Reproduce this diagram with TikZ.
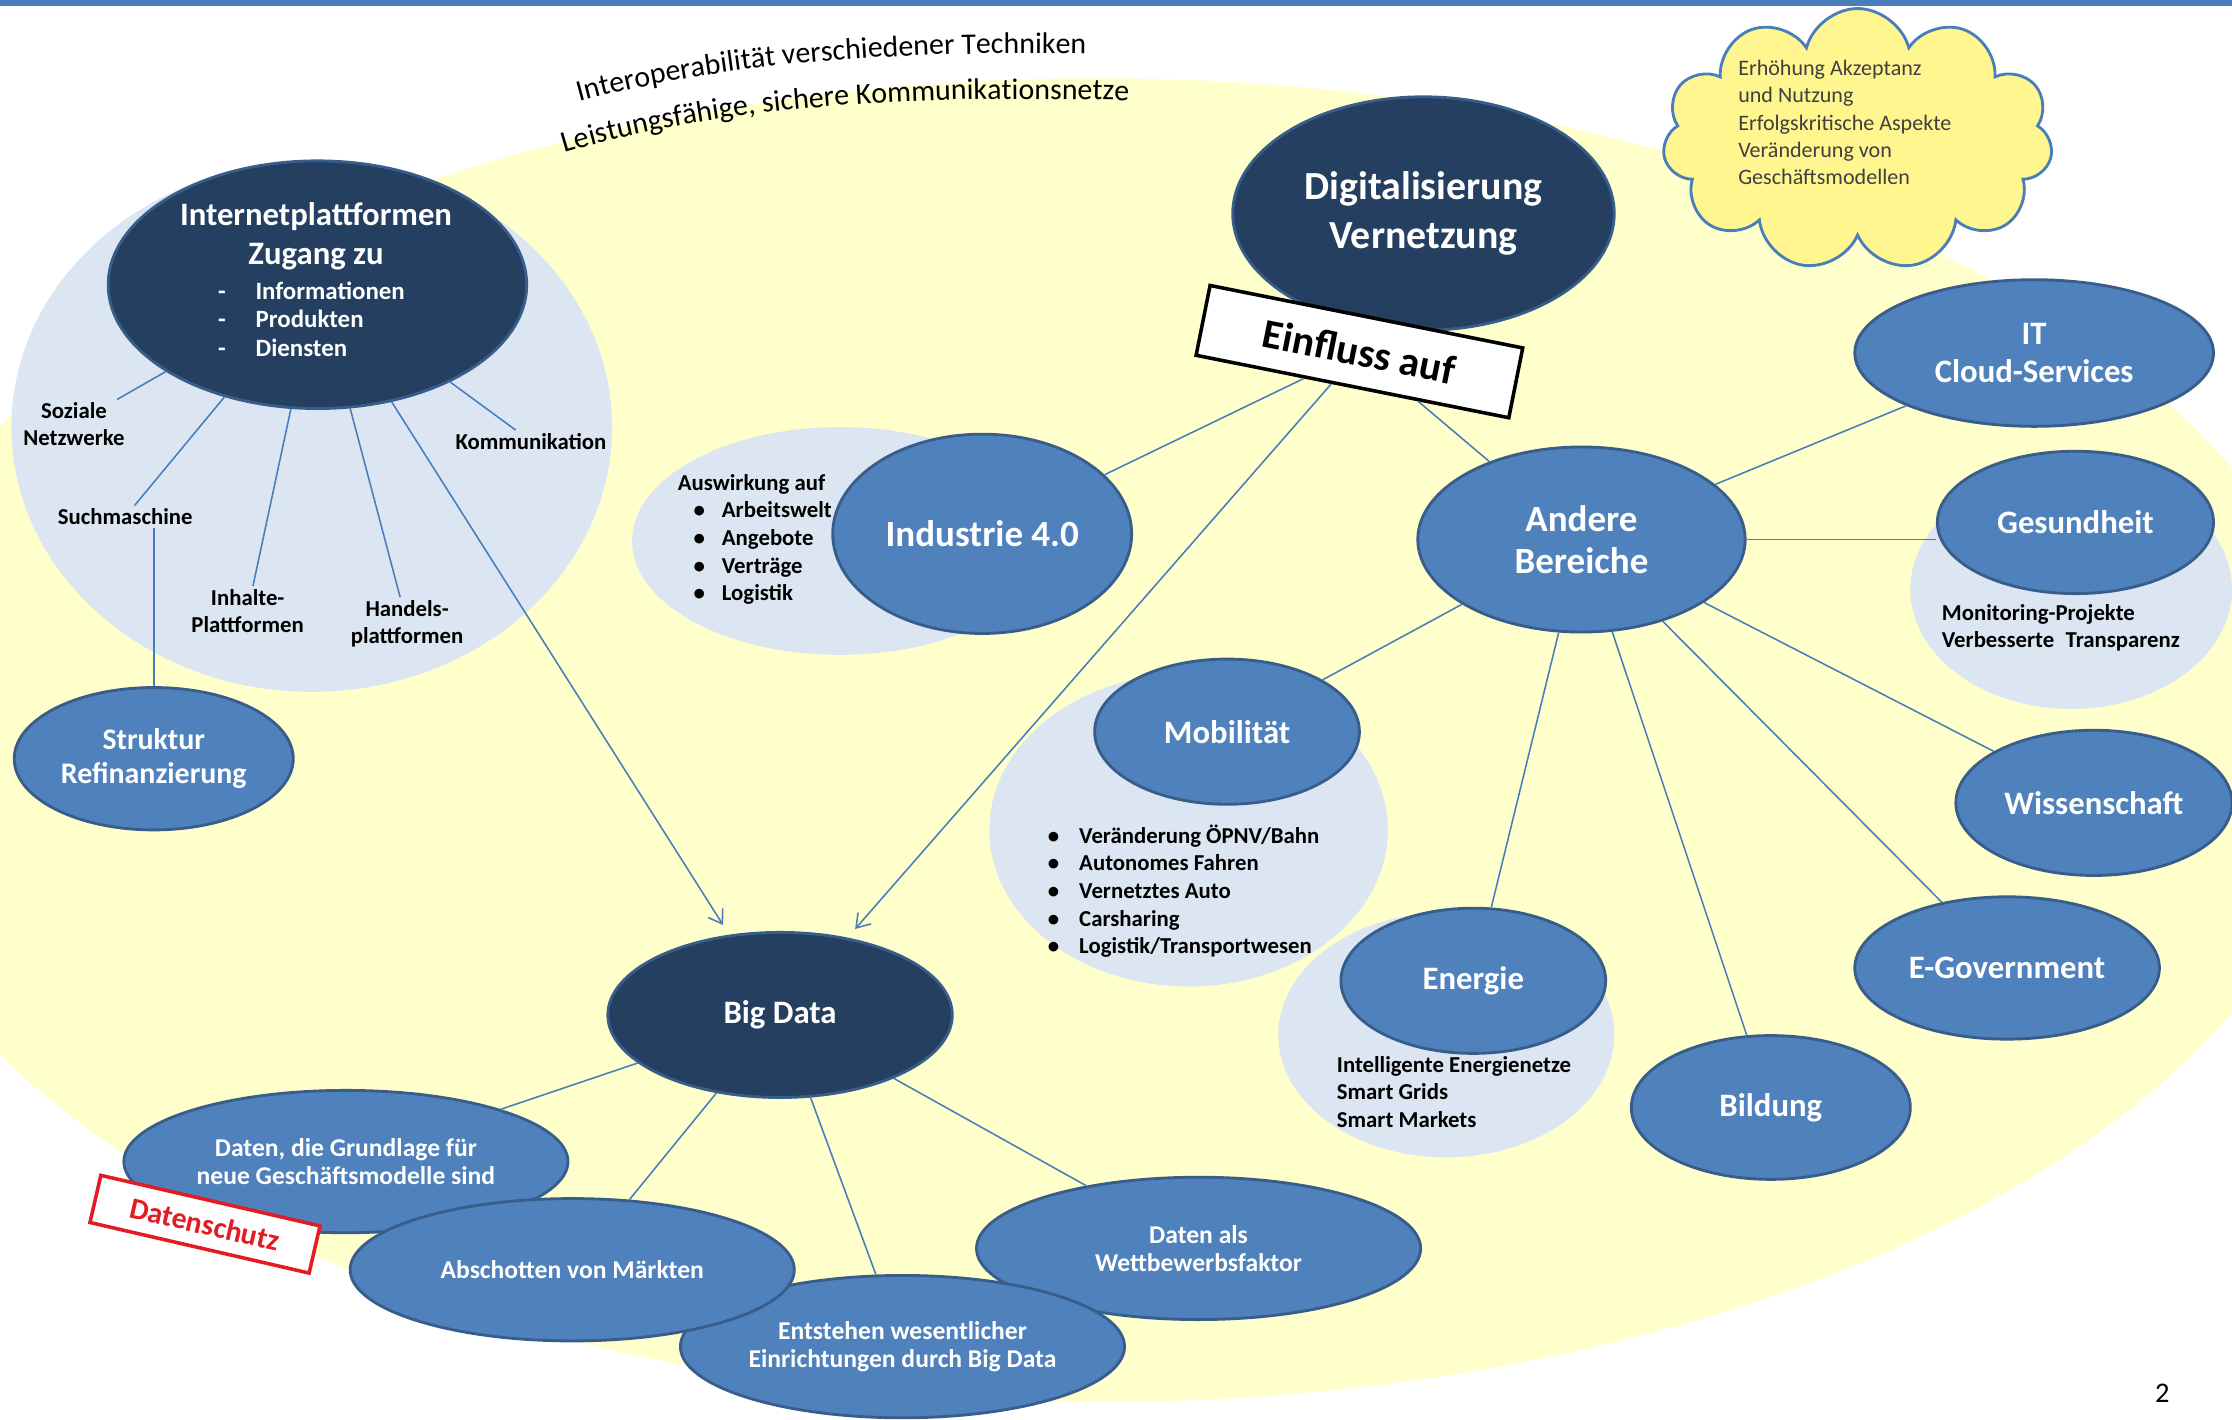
\documentclass[tikz,border=0pt]{standalone}
\usepackage{fontspec}
\setmainfont{Carlito}
\usetikzlibrary{shapes.geometric,shapes.symbols,decorations.text,arrows.meta}

\definecolor{gelb}{HTML}{FFFFCC}
\definecolor{hellblau}{HTML}{DCE6F2}
\definecolor{mittelblau}{HTML}{4F81BD}
\definecolor{randblau}{HTML}{385D8A}
\definecolor{dunkelblau}{HTML}{243F60}
\definecolor{linienblau}{HTML}{4A7EBB}
\definecolor{wolkengelb}{HTML}{FFF68F}
\definecolor{stempelrot}{HTML}{E31B23}

\tikzset{
  blase/.style={ellipse, draw=randblau, line width=2pt, fill=mittelblau, text=white,
    inner sep=0pt, align=center, font=\bfseries\fontsize{23}{27}\selectfont},
  dunkel/.style={blase, fill=dunkelblau},
  unten/.style={blase, minimum width=312pt, minimum height=100pt,
    font=\bfseries\fontsize{18}{20}\selectfont},
  hinter/.style={fill=hellblau},
  stich/.style={draw=linienblau, line width=1.1pt},
  beschr/.style={align=center, font=\bfseries\fontsize{16}{19}\selectfont, inner sep=2pt},
  liste/.style={align=left, font=\bfseries\fontsize{16}{19.4}\selectfont, inner sep=0pt, anchor=west},
  stempel/.style={draw, line width=2.5pt, fill=white, inner sep=0pt, font=\bfseries}
}

\begin{document}
\begin{tikzpicture}[x=1pt, y=-1pt, >={Straight Barb[length=9pt,width=12pt]}]
    \useasboundingbox (0,0) rectangle (1568,997);
    \clip (0,0) rectangle (1568,997);

    % Hintergrund
    \fill[gelb] (770,520) ellipse (875pt and 465pt);
    \fill[linienblau] (0,0) rectangle (1568,4);
    \fill[hinter] (219,300) ellipse (211pt and 186pt);
    \fill[hinter] (590,380) ellipse (146pt and 80pt);
    \fill[hinter] (835,583) ellipse (140pt and 110pt);
    \fill[hinter] (1016,727) ellipse (118pt and 86pt);
    \fill[hinter] (1455,414) ellipse (113pt and 84pt);

    % Gebogene Texte oben
    \path[decorate, decoration={text along path, text align=center, text format delimiters={|}{|},
        text={|\fontsize{21}{25}\selectfont|Interoperabilität verschiedener Techniken}}]
        (398,74) .. controls (500,45) and (620,35) .. (772,38);
    \path[decorate, decoration={text along path, text align=center, text format delimiters={|}{|},
        text={|\fontsize{21}{25}\selectfont|Leistungsfähige, sichere Kommunikationsnetze}}]
        (388,110) .. controls (490,78) and (620,65) .. (802,71);

    % Internetplattformen
    \node[dunkel, minimum width=294pt, minimum height=174pt] (inet) at (223,200) {};
    \node[text=white, align=center, font=\bfseries\fontsize{23}{27}\selectfont] (inettitel) at (222,166) {Internetplattformen\\Zugang zu};
    \node[liste, text=white, font=\bfseries\fontsize{17.5}{20}\selectfont] (inetliste) at (153,224)
        {-\hspace{21pt}Informationen\\-\hspace{21pt}Produkten\\-\hspace{21pt}Diensten};
    \node[beschr] (sozial) at (52,298) {Soziale\\Netzwerke};
    \node[beschr] (such) at (88,363) {Suchmaschine};
    \node[beschr] (inhalte) at (174,429) {Inhalte-\\Plattformen};
    \node[beschr] (handel) at (286,438) {Handels-\\plattformen};
    \node[beschr] (komm) at (373,310) {Kommunikation};
    \node[blase, minimum width=196pt, minimum height=100pt, font=\bfseries\fontsize{21}{24}\selectfont] (struktur) at (108,533) {Struktur\\Refinanzierung};

    % Industrie 4.0
    \node[blase, minimum width=210pt, minimum height=140pt, font=\bfseries\fontsize{26}{30}\selectfont] (industrie) at (690,375) {Industrie 4.0};
    \node[liste] (auswirkung) at (476,379) {Auswirkung auf\\
        \hspace{11pt}\textbullet\hspace{12pt}Arbeitswelt\\
        \hspace{11pt}\textbullet\hspace{12pt}Angebote\\
        \hspace{11pt}\textbullet\hspace{12pt}Verträge\\
        \hspace{11pt}\textbullet\hspace{12pt}Logistik};

    % Digitalisierung
    \node[dunkel, minimum width=268pt, minimum height=164pt, font=\bfseries\fontsize{28}{34}\selectfont] (digital) at (1000,150) {Digitalisierung\\Vernetzung};
    \node[stempel, rotate=-11.3, minimum width=224pt, minimum height=50pt, font=\bfseries\fontsize{29}{34}\selectfont] (einfluss) at (955,247) {Einfluss auf};

    % Wolke
    \node[cloud, cloud puffs=11, cloud ignores aspect, draw=linienblau, line width=2pt, fill=wolkengelb,
        minimum width=274pt, minimum height=184pt] (wolke) at (1305,98) {};
    \node[align=left, text=black!75, font=\fontsize{15.5}{19}\selectfont] (wolketxt) at (1296,86)
        {Erhöhung Akzeptanz\\und Nutzung\\Erfolgskritische Aspekte\\Veränderung von\\Geschäftsmodellen};

    % Andere Bereiche
    \node[blase, minimum width=230pt, minimum height=130pt, font=\bfseries\fontsize{26}{30}\selectfont] (andere) at (1111,379) {Andere\\Bereiche};
    \node[blase, minimum width=252pt, minimum height=103pt] (it) at (1429,248) {IT\\Cloud-Services};
    \node[blase, minimum width=194pt, minimum height=100pt] (gesund) at (1458,367) {Gesundheit};
    \node[liste] (monitor) at (1364,441) {Monitoring-Projekte\\Verbesserte\hspace{8pt}Transparenz};
    \node[blase, minimum width=194pt, minimum height=102pt] (wissen) at (1471,564) {Wissenschaft};
    \node[blase, minimum width=214pt, minimum height=100pt] (egov) at (1410,680) {E-Government};
    \node[blase, minimum width=196pt, minimum height=101pt] (bildung) at (1244,778) {Bildung};
    \node[blase, minimum width=186pt, minimum height=102pt] (energie) at (1035,689) {Energie};
    \node[liste] (energietxt) at (939,767) {Intelligente Energienetze\\Smart Grids\\Smart Markets};
    \node[blase, minimum width=186pt, minimum height=102pt] (mobil) at (862,514) {Mobilität};
    \node[liste] (mobiltxt) at (736,626) {\textbullet\hspace{14pt}Veränderung ÖPNV/Bahn\\
        \textbullet\hspace{14pt}Autonomes Fahren\\
        \textbullet\hspace{14pt}Vernetztes Auto\\
        \textbullet\hspace{14pt}Carsharing\\
        \textbullet\hspace{14pt}Logistik/Transportwesen};

    % Big Data
    \node[dunkel, minimum width=242pt, minimum height=116pt] (bigdata) at (548,713) {Big Data};
    \node[unten] (wettbewerb) at (842,877) {Daten als\\Wettbewerbsfaktor};
    \node[unten] (entstehen) at (634,946) {Entstehen wesentlicher\\Einrichtungen durch Big Data};
    \node[unten] (grundlage) at (243,816) {Daten, die Grundlage für\\neue Geschäftsmodelle sind};
    \node[stempel, draw=stempelrot, text=stempelrot, rotate=-13, minimum width=158pt, minimum height=34pt,
        font=\bfseries\fontsize{21}{24}\selectfont] (datenschutz) at (144,860) {Datenschutz};
    \node[unten] (abschotten) at (402,892) {Abschotten von Märkten};

    \node[font=\fontsize{20}{24}\selectfont] (seite) at (1519,979) {2};

    % Verbindungen
    \draw[stich] (inet) -- (sozial);
    \draw[stich] (inet) -- (such);
    \draw[stich] (inet) -- (inhalte);
    \draw[stich] (inet) -- (handel);
    \draw[stich] (inet) -- (komm);
    \draw[stich] (such.south -| struktur.north) -- (struktur.north);
    \draw[stich, ->, shorten >=8pt] (inet) -- (bigdata);
    \draw[stich, ->, shorten >=8pt] (einfluss) -- (bigdata);
    \draw[stich] (einfluss) -- (industrie);
    \draw[stich] (einfluss) -- (andere);
    \draw[stich] (andere.east) -- (andere.east -| gesund.west);
    \foreach \z in {it, wissen, egov, bildung, energie, mobil}
        \draw[stich] (andere) -- (\z);
    \foreach \z in {grundlage, abschotten, entstehen, wettbewerb}
        \draw[stich] (bigdata) -- (\z);
\end{tikzpicture}
\end{document}
